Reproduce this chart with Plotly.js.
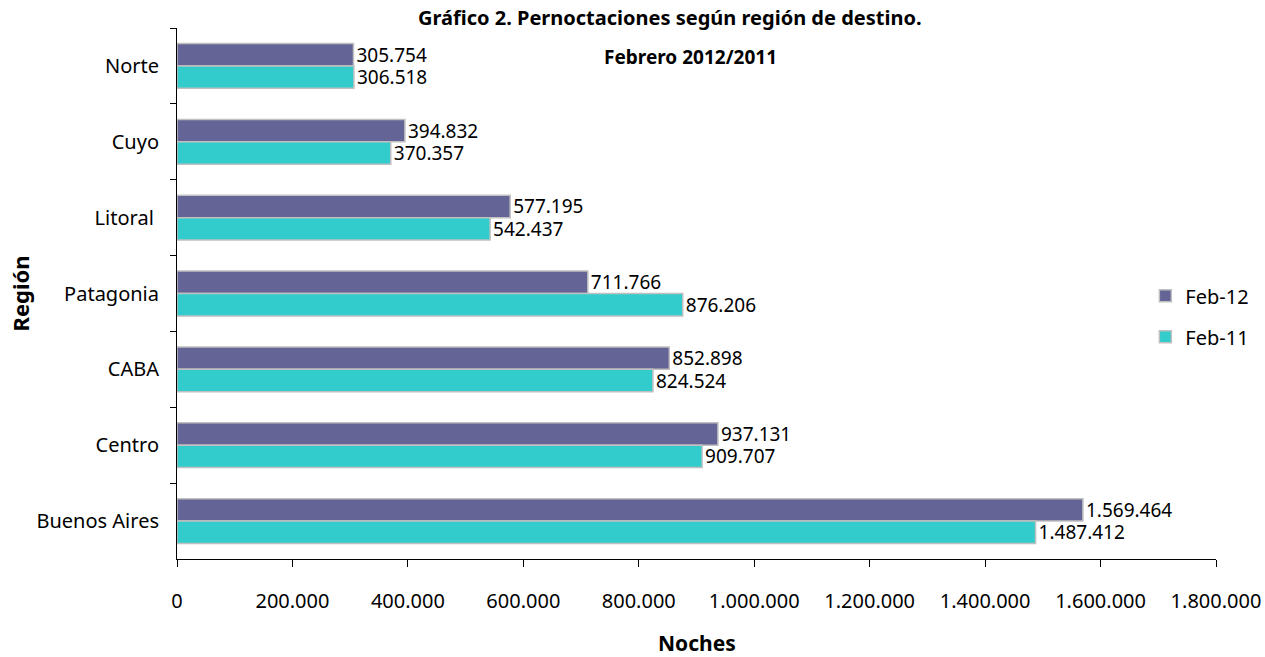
<!DOCTYPE html>
<html>
<head>
<meta charset="utf-8">
<script src="https://cdn.plot.ly/plotly-3.0.1.min.js"></script>
<style>
  body { margin: 0; background: #fff; }
  #chart { width: 1265px; height: 657px; }
</style>
</head>
<body>
<div id="chart"></div>
<script>
const regiones = ['Norte', 'Cuyo', 'Litoral ', 'Patagonia', 'CABA', 'Centro', 'Buenos Aires'];
const feb12 = [305754, 394832, 577195, 711766, 852898, 937131, 1569464];
const feb11 = [306518, 370357, 542437, 876206, 824524, 909707, 1487412];
const xTicks = [0, 200000, 400000, 600000, 800000, 1000000, 1200000, 1400000, 1600000, 1800000];

const fuente = 'Noto Sans, Open Sans, sans-serif';

function fmt(v) {
    return v.toString().replace(/\B(?=(\d{3})+(?!\d))/g, '.');
}

const data = [
    {
        name: 'Feb-12',
        type: 'bar',
        orientation: 'h',
        y: regiones,
        x: feb12,
        text: feb12.map(fmt),
        textposition: 'outside',
        constraintext: 'none',
        cliponaxis: false,
        textfont: { family: fuente, size: 19, color: '#000' },
        marker: { color: '#646496', line: { color: '#c0c0c0', width: 1.5 } },
        legendgroup: 'a',
        hoverinfo: 'x+name'
    },
    {
        name: 'Feb-11',
        type: 'bar',
        orientation: 'h',
        y: regiones,
        x: feb11,
        text: feb11.map(fmt),
        textposition: 'outside',
        constraintext: 'none',
        cliponaxis: false,
        textfont: { family: fuente, size: 19, color: '#000' },
        marker: { color: '#33cccc', line: { color: '#c0c0c0', width: 1.5 } },
        legendgroup: 'b',
        hoverinfo: 'x+name'
    }
];

const layout = {
    width: 1265,
    height: 657,
    margin: { l: 177, r: 49, t: 28, b: 98, autoexpand: false },
    paper_bgcolor: '#fff',
    plot_bgcolor: '#fff',
    separators: ',.',
    font: { family: fuente, size: 20, color: '#000' },
    barmode: 'group',
    bargap: 0.41,
    bargroupgap: 0,
    showlegend: true,
    legend: {
        x: 0.932, xanchor: 'left', y: 0.457, yanchor: 'middle',
        bgcolor: 'rgba(0,0,0,0)',
        font: { family: fuente, size: 20 },
        tracegroupgap: 12,
        traceorder: 'grouped'
    },
    xaxis: {
        range: [0, 1800000],
        tickvals: xTicks,
        ticktext: xTicks.map(fmt),
        showgrid: false,
        zeroline: false,
        showline: true,
        linecolor: '#000',
        linewidth: 1,
        ticks: 'outside',
        ticklen: 7,
        tickcolor: '#000',
        ticklabelstandoff: 17,
        tickfont: { family: fuente, size: 20 }
    },
    yaxis: {
        type: 'category',
        autorange: 'reversed',
        showgrid: false,
        zeroline: false,
        showline: true,
        linecolor: '#000',
        linewidth: 1,
        ticks: 'outside',
        tickson: 'boundaries',
        ticklen: 6,
        tickcolor: '#000',
        tickfont: { family: fuente, size: 20 },
        ticklabelstandoff: 13,
        title: { text: '<b>Región</b>', font: { family: fuente, size: 22 }, standoff: 0 }
    },
    annotations: [
        {
            text: '<b>Gráfico 2. Pernoctaciones según región de destino.</b>',
            xref: 'paper', yref: 'paper', x: 0.4745, y: 1.0, yshift: 11,
            xanchor: 'center', yanchor: 'middle', showarrow: false,
            font: { family: fuente, size: 20 }
        },
        {
            text: '<b>Febrero 2012/2011</b>',
            xref: 'paper', yref: 'paper', x: 0.494, y: 1.0, yshift: -29,
            xanchor: 'center', yanchor: 'middle', showarrow: false,
            font: { family: fuente, size: 19 }
        },
        {
            text: '<b>Noches</b>',
            xref: 'paper', yref: 'paper', x: 0.5005, y: 0, yshift: -84,
            xanchor: 'center', yanchor: 'middle', showarrow: false,
            font: { family: fuente, size: 21 }
        }
    ]
};

Plotly.newPlot('chart', data, layout, { displayModeBar: false });
</script>
</body>
</html>
